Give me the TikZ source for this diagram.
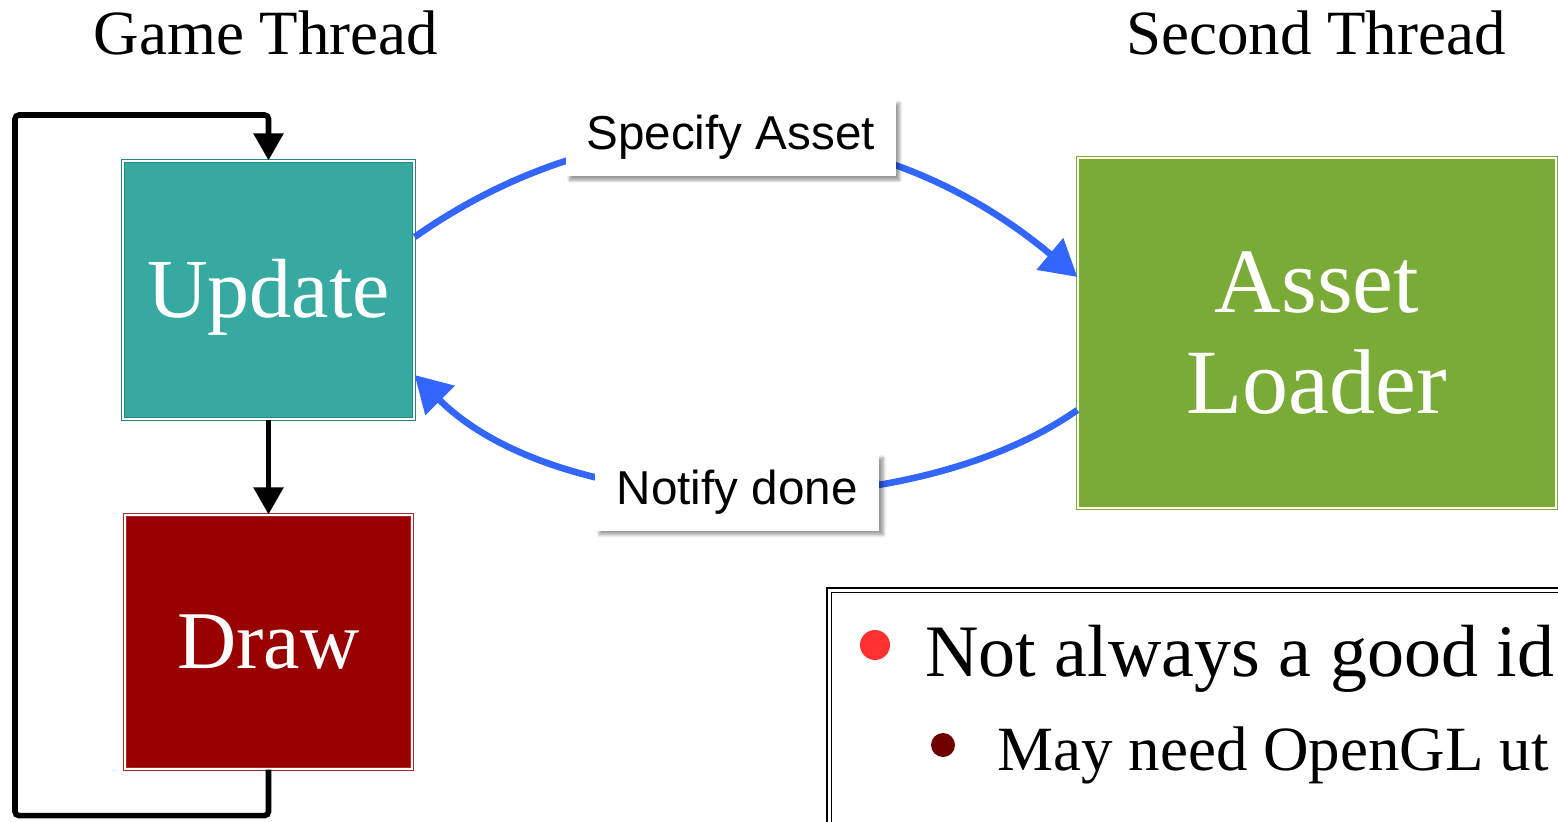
\documentclass[tikz,border=0pt]{standalone}
\usepackage{fontspec}
\setmainfont{Liberation Serif}
\newfontfamily\labelfont{Liberation Sans}
\usepackage{tikz}
\usetikzlibrary{arrows.meta}
\usetikzlibrary{calc,shadows.blur,positioning}

\definecolor{tealbox}{RGB}{54,170,160}
\definecolor{tealline}{RGB}{40,135,125}
\definecolor{redbox}{RGB}{153,0,0}
\definecolor{redline}{RGB}{175,40,40}
\definecolor{greenbox}{RGB}{122,171,54}
\definecolor{arrowblue}{RGB}{51,102,255}
\definecolor{dotred}{RGB}{255,48,48}
\definecolor{dotdark}{RGB}{110,0,0}

\begin{document}
\begin{tikzpicture}[x=0.5pt,y=0.5pt]
	\useasboundingbox (0,0) rectangle (1558,821);

	\begin{scope}[every node/.style={anchor=base,inner sep=0pt,font=\fontsize{31.5}{36}\selectfont}]
		\node (GT) at (266,766) {Game Thread};
		\node (ST) at (1316,766) {Second Thread};
	\end{scope}

	\begin{scope}[every node/.style={draw,double=white,double distance=1pt,line width=0.6pt,text=white,inner sep=0pt}]
		\node[fill=tealbox,draw=tealline,minimum width=145.5pt,minimum height=129pt,font=\fontsize{42}{48}\selectfont] (U) at (268.5,531) {\raisebox{-14pt}[0pt][0pt]{Update}};
		\node[fill=redbox,draw=redline,minimum width=143.5pt,minimum height=127pt,font=\fontsize{41}{48}\selectfont] (D) at (268.5,179) {Draw};
		\node[fill=greenbox,draw=greenbox,minimum width=239pt,minimum height=175pt,align=center,font=\fontsize{46}{50.5}\selectfont] (L) at (1317,488) {Asset\\Loader};
	\end{scope}

	\begin{scope}[>={Triangle[width=14.5pt,length=13.5pt]}, line width=2.8pt]
		\draw[->] (U) -- (D);
		\draw[->,rounded corners=2pt] (D.south) -- ++(0,-46) -| (15,706) -| (U.north);
	\end{scope}

	\begin{scope}[>={Triangle[width=20pt,length=18pt]},
		arrowblue, line width=3.3pt,
		every node/.style={fill=white,text=black,inner sep=0pt,minimum height=38.5pt,
			font=\labelfont\fontsize{23.8}{27}\selectfont,
			blur shadow={shadow xshift=2pt,shadow yshift=-2pt,shadow blur radius=1.5pt,shadow blur steps=6}}]
		\draw[->] ([yshift=26.5pt]U.east) to[out=35,in=140] node[pos=0.47,minimum width=165pt] (SA) {Specify Asset} ([yshift=28pt]L.west);
		\draw[->] ([yshift=-38.5pt]L.west) to[out=215,in=-45,looseness=0.8] node[pos=0.5,minimum width=142pt] (ND) {Notify done} ([yshift=-42.5pt]U.east);
	\end{scope}

	\begin{scope}
		\clip (0,0) rectangle (1558,821);
		\draw[double=white,double distance=1.5pt,line width=0.8pt] (829,231) rectangle (1620,-40);
		\fill[dotred] (875,176) circle (7.5pt);
		\node[anchor=base west,inner sep=0pt,font=\fontsize{37}{40}\selectfont] (B1) at (925,145) {Not always a good id};
		\fill[dotdark] (943,76) circle (6pt);
		\node[anchor=base west,inner sep=0pt,font=\fontsize{31.5}{36}\selectfont] (B2) at (997,51) {May need OpenGL ut};
	\end{scope}
\end{tikzpicture}
\end{document}
